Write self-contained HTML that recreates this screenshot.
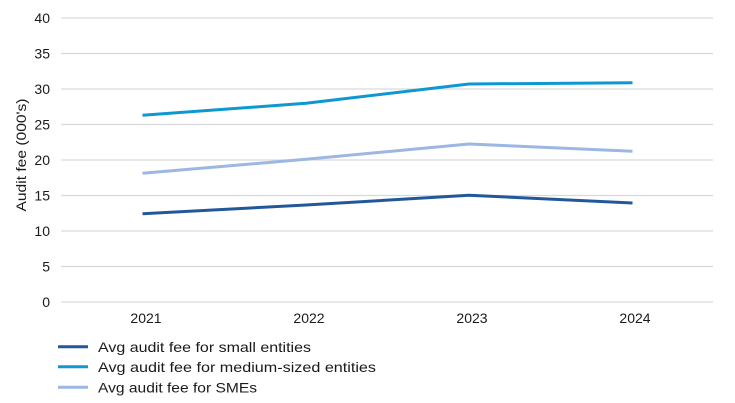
<!DOCTYPE html>
<html><head><meta charset="utf-8"><style>
html,body{margin:0;padding:0;background:#fff;}
svg{display:block;font-family:"Liberation Sans",sans-serif;}
</style></head><body>
<svg width="735" height="403" viewBox="0 0 735 403" xmlns="http://www.w3.org/2000/svg">
<rect width="735" height="403" fill="#fff"/>
<g stroke="#d9d9d9" stroke-width="1.2">
<line x1="61" x2="713" y1="302" y2="302"/>
<line x1="61" x2="713" y1="266.5" y2="266.5"/>
<line x1="61" x2="713" y1="231" y2="231"/>
<line x1="61" x2="713" y1="195.5" y2="195.5"/>
<line x1="61" x2="713" y1="160" y2="160"/>
<line x1="61" x2="713" y1="124.5" y2="124.5"/>
<line x1="61" x2="713" y1="89" y2="89"/>
<line x1="61" x2="713" y1="53.5" y2="53.5"/>
<line x1="61" x2="713" y1="18" y2="18"/>
</g>
<g font-size="14" fill="#1a1a1a" text-anchor="end">
<text x="50" y="307">0</text>
<text x="50" y="271.5">5</text>
<text x="50" y="236">10</text>
<text x="50" y="200.5">15</text>
<text x="50" y="165">20</text>
<text x="50" y="129.5">25</text>
<text x="50" y="94">30</text>
<text x="50" y="58.5">35</text>
<text x="50" y="23">40</text>
</g>
<g font-size="14" fill="#1a1a1a" text-anchor="middle">
<text x="146" y="323">2021</text>
<text x="309" y="323">2022</text>
<text x="472" y="323">2023</text>
<text x="635" y="323">2024</text>
</g>
<text transform="translate(26,155) rotate(-90)" font-size="14" fill="#1a1a1a" text-anchor="middle" textLength="113" lengthAdjust="spacingAndGlyphs">Audit fee (000's)</text>
<g fill="none" stroke-width="3" stroke-linejoin="round">
<polyline stroke="#0e98d1" points="142.5,115.3 306,103.3 469,84 632.5,82.7"/>
<polyline stroke="#9bb7e2" points="142.5,173.3 306,159.3 469,144 632.5,151.3"/>
<polyline stroke="#22589a" points="142.5,213.7 306,205 469,195.3 632.5,203"/>
</g>
<g stroke-width="3">
<line x1="58" x2="88" y1="346.7" y2="346.7" stroke="#22589a"/>
<line x1="58" x2="88" y1="366.7" y2="366.7" stroke="#0e98d1"/>
<line x1="58" x2="88" y1="387.3" y2="387.3" stroke="#9bb7e2"/>
</g>
<g font-size="14" fill="#1a1a1a">
<text x="98" y="352" textLength="213" lengthAdjust="spacingAndGlyphs">Avg audit fee for small entities</text>
<text x="98" y="372" textLength="278" lengthAdjust="spacingAndGlyphs">Avg audit fee for medium-sized entities</text>
<text x="98" y="392.5" textLength="159" lengthAdjust="spacingAndGlyphs">Avg audit fee for SMEs</text>
</g>
</svg>
</body></html>
